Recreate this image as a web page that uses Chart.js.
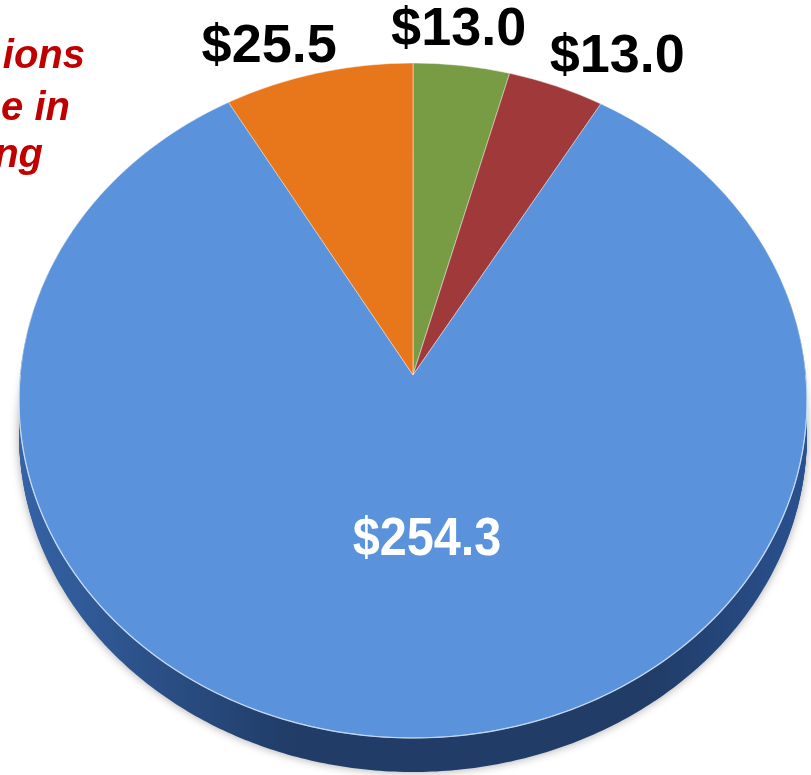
<!DOCTYPE html>
<html>
<head>
<meta charset="utf-8">
<script src="https://cdn.jsdelivr.net/npm/chart.js@4.4.1/dist/chart.umd.min.js"></script>
<style>
	html, body { margin: 0; padding: 0; background: #fff; overflow: hidden; }
	#wrap { position: relative; width: 811px; height: 800px; }
</style>
</head>
<body>
<div id="wrap"><canvas id="pieChart"></canvas></div>
<script>
// Slices, clockwise from 12 o'clock
var categories = ['Slice 1', 'Slice 2', 'Slice 3', 'Slice 4'];
var values = [13.0, 13.0, 254.3, 25.5];
var valueLabels = values.map(function(v) { return '$' + v.toFixed(1); });

// Cropped note on the left edge
var noteLines = ['ions', 'e in', 'ng'];

// Styles
var sliceColors = ['#779c43', '#a0393a', '#5a93db', '#e8761b'];
var edgeColors = ['#3d5a1f', '#5e1e1d', '#203c67', '#8a430c'];
var labelColors = ['#000', '#000', '#fff', '#000'];
var labelReach = [1, 1, 0.47, 1];
var labelShift = [[-3, -21], [61, -14], [15, 16], [-49, -11]];
var labelSqueeze = [1, 1, 0.9, 1];
var noteX = [85, 70, 43];
var noteY = [68, 120, 167];

// Perspective view of the pie: centre on screen, far rim, near rim, half width
var centerX = 413, apexY = 375, farY = 63, nearY = 738, halfWidth = 394;
var depth = 34;
var ratio = (nearY - apexY) / (apexY - farY);
var pk = (ratio - 1) / (ratio + 1);
var pt = (apexY - farY) * (1 + pk);
var ps = halfWidth * Math.sqrt(1 - pk * pk);

// point on the pie plane (angle, fraction of radius) -> screen
function project(ang, r) {
	var u = Math.cos(ang) * r, v = Math.sin(ang) * r, w = 1 - pk * v;
	return { x: centerX + ps * u / w, y: apexY + pt * v / w };
}

// affine approximation of the perspective for a thin row band around ym
function stripMatrix(ym, a) {
	var d = ym - apexY;
	var v = d / (pt + pk * d);
	var w = 1 - pk * v;
	var R = a.outerRadius;
	var sx = ps / (w * R);
	var sy = pt / (w * w * R);
	return [sx, 0, 0, sy, centerX - sx * a.x, ym - sy * (a.y + v * R)];
}

function sectorPath(ctx, a, dy) {
	var c = project(0, 0);
	ctx.beginPath();
	ctx.moveTo(c.x, c.y + dy);
	var n = Math.max(4, Math.ceil((a.endAngle - a.startAngle) * 90));
	for (var j = 0; j <= n; j++) {
		var p = project(a.startAngle + (a.endAngle - a.startAngle) * j / n, 1);
		ctx.lineTo(p.x, p.y + dy);
	}
	ctx.closePath();
}

var perspectivePlugin = {
	id: 'perspective',
	beforeDatasetsDraw: function(chart) {
		var ctx = chart.ctx;
		var arcs = chart.getDatasetMeta(0).data;
		var W = chart.width;

		// edge of the pie: stacked copies shifted down
		for (var off = depth; off >= 1; off--) {
			ctx.save();
			if (off === depth) {
				ctx.shadowColor = 'rgba(0,0,0,0.35)';
				ctx.shadowBlur = 10;
			}
			arcs.forEach(function(a, i) {
				var grad = ctx.createLinearGradient(centerX - halfWidth, 0, centerX + halfWidth, 0);
				grad.addColorStop(0, i === 2 ? '#3563a6' : edgeColors[i]);
				grad.addColorStop(0.35, edgeColors[i]);
				grad.addColorStop(0.8, edgeColors[i]);
				grad.addColorStop(1, i === 2 ? '#2a5190' : edgeColors[i]);
				ctx.fillStyle = grad;
				sectorPath(ctx, a, off);
				ctx.fill();
			});
			ctx.restore();
		}

		// top surface, drawn band by band
		var y0 = Math.floor(farY) - 2, y1 = Math.ceil(nearY) + 2, band = 2;
		for (var y = y0; y < y1; y += band) {
			ctx.save();
			ctx.beginPath();
			ctx.rect(0, y, W, band);
			ctx.clip();
			var m = stripMatrix(y + band / 2, arcs[0]);
			ctx.transform(m[0], m[1], m[2], m[3], m[4], m[5]);
			arcs.forEach(function(a) { a.draw(ctx); });
			ctx.restore();
		}

		// light rim where the top meets the edge
		ctx.save();
		ctx.strokeStyle = 'rgba(205, 225, 250, 0.8)';
		ctx.lineWidth = 1.2;
		ctx.beginPath();
		for (var j = 0; j <= 180; j++) {
			var p = project(Math.PI * j / 180, 1);
			if (j === 0) ctx.moveTo(p.x, p.y); else ctx.lineTo(p.x, p.y);
		}
		ctx.stroke();
		ctx.restore();
		return false;
	},
	afterDraw: function(chart) {
		var ctx = chart.ctx;
		var arcs = chart.getDatasetMeta(0).data;
		ctx.save();
		ctx.textAlign = 'center';
		ctx.textBaseline = 'alphabetic';
		ctx.font = 'bold 54px "Liberation Sans", Arial, sans-serif';
		arcs.forEach(function(a, i) {
			var p = project((a.startAngle + a.endAngle) / 2, labelReach[i]);
			ctx.save();
			ctx.translate(p.x + labelShift[i][0], p.y + labelShift[i][1]);
			ctx.scale(labelSqueeze[i], 1);
			ctx.fillStyle = labelColors[i];
			ctx.fillText(valueLabels[i], 0, 0);
			ctx.restore();
		});

		ctx.fillStyle = '#c00000';
		ctx.textAlign = 'right';
		ctx.font = 'italic bold 40px "Liberation Sans", Arial, sans-serif';
		noteLines.forEach(function(t, i) {
			ctx.fillText(t, noteX[i], noteY[i]);
		});
		ctx.restore();
	}
};

var pieChart = new Chart(document.getElementById('pieChart'), {
	type: 'pie',
	data: {
		labels: categories,
		datasets: [{
			data: values,
			backgroundColor: sliceColors,
			borderColor: 'rgba(255, 255, 255, 0.55)',
			borderWidth: 1
		}]
	},
	options: {
		responsive: true,
		maintainAspectRatio: false,
		animation: false,
		layout: { padding: { left: 19, right: 4, top: 6, bottom: 6 } },
		plugins: {
			legend: { display: false },
			tooltip: { enabled: false }
		}
	},
	plugins: [perspectivePlugin]
});
</script>
</body>
</html>
